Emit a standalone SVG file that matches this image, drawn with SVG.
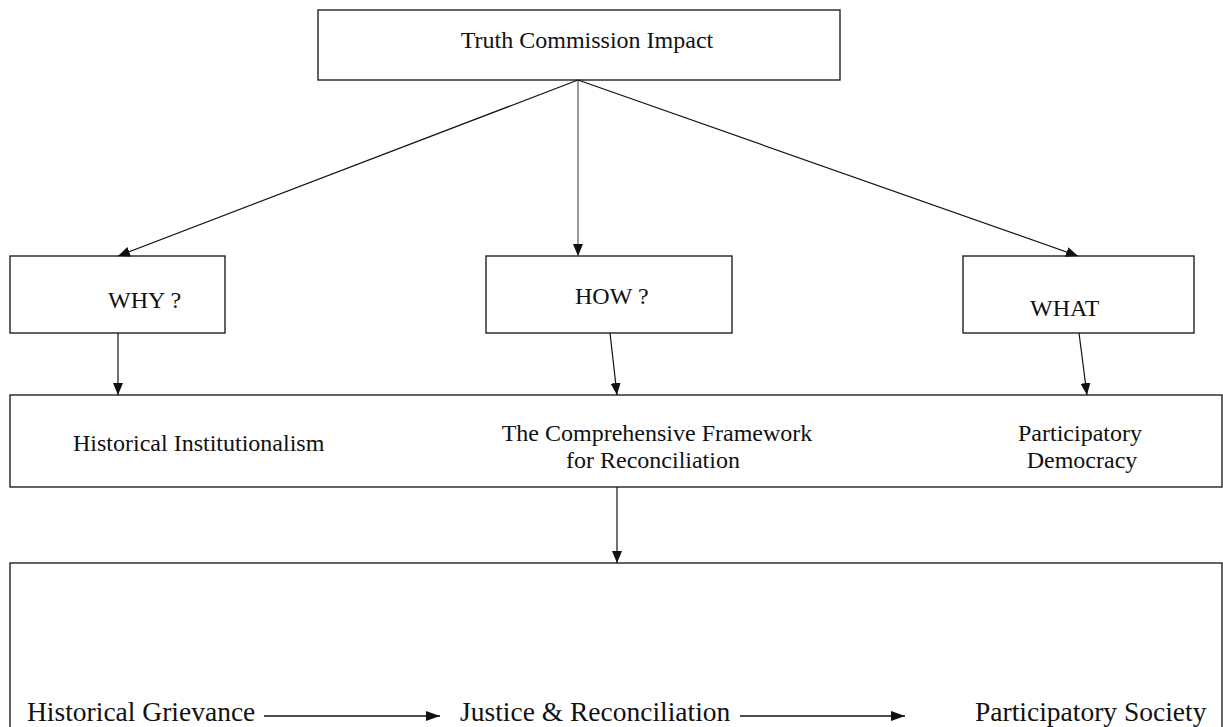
<svg xmlns="http://www.w3.org/2000/svg" width="1223" height="727" viewBox="0 0 1223 727">
<style>
.box{fill:#fff;stroke:#222;stroke-width:1.4}
.t{font-size:24px;fill:#111}
.tb{font-size:27.5px;fill:#111}
.c{stroke:#111;stroke-width:1.2;fill:none;marker-end:url(#ah)}
.cb{stroke:#111;stroke-width:1.6;fill:none;marker-end:url(#ahb)}
</style>
<defs>
<marker id="ah" viewBox="0 0 12 10" refX="12" refY="5" markerWidth="12" markerHeight="10" markerUnits="userSpaceOnUse" orient="auto">
<path d="M0,0 L12,5 L0,10 Z" fill="#111"/>
</marker>
<marker id="ahb" viewBox="0 0 14 10" refX="14" refY="5" markerWidth="14" markerHeight="10" markerUnits="userSpaceOnUse" orient="auto">
<path d="M0,0 L14,5 L0,10 Z" fill="#111"/>
</marker>
</defs>
<rect width="1223" height="727" fill="#fff"/>
<g font-family="Liberation Serif, DejaVu Serif, serif">
<g id="top"><rect class="box" x="318" y="10" width="522" height="70"/><text class="t" x="587" y="48" text-anchor="middle">Truth Commission Impact</text></g>
<g id="why"><rect class="box" x="10" y="256" width="215" height="77"/><text class="t" x="108" y="308">WHY ?</text></g>
<g id="how"><rect class="box" x="486" y="256" width="246" height="77"/><text class="t" x="575" y="304">HOW ?</text></g>
<g id="what"><rect class="box" x="963" y="256" width="231" height="77"/><text class="t" x="1030" y="316">WHAT</text></g>
<g id="middle"><rect class="box" x="10" y="395" width="1212" height="92"/>
<text class="t" x="73" y="451">Historical Institutionalism</text>
<text class="t" x="657" y="441" text-anchor="middle">The Comprehensive Framework</text>
<text class="t" x="653" y="468" text-anchor="middle">for Reconciliation</text>
<text class="t" x="1080" y="441" text-anchor="middle">Participatory</text>
<text class="t" x="1082" y="468" text-anchor="middle">Democracy</text>
</g>
<g id="bottom"><rect class="box" x="10" y="563" width="1212" height="180"/>
<text class="tb" x="27" y="721">Historical Grievance</text>
<text class="tb" x="460" y="721">Justice &amp; Reconciliation</text>
<text class="tb" x="975" y="721">Participatory Society</text>
</g>
</g>
<g id="connectors">
<line class="c" x1="578" y1="80" x2="118" y2="256"/>
<line class="c" x1="578" y1="80" x2="578" y2="256" style="stroke:#555"/>
<line class="c" x1="578" y1="80" x2="1078" y2="256"/>
<line class="c" x1="118" y1="333" x2="118" y2="395"/>
<line class="c" x1="610" y1="333" x2="617" y2="395"/>
<line class="c" x1="1079" y1="333" x2="1087" y2="395"/>
<line class="c" x1="617" y1="487" x2="617" y2="563"/>
<line class="cb" x1="264" y1="716" x2="440" y2="716"/>
<line class="cb" x1="740" y1="716" x2="905" y2="716"/>
</g>
</svg>
